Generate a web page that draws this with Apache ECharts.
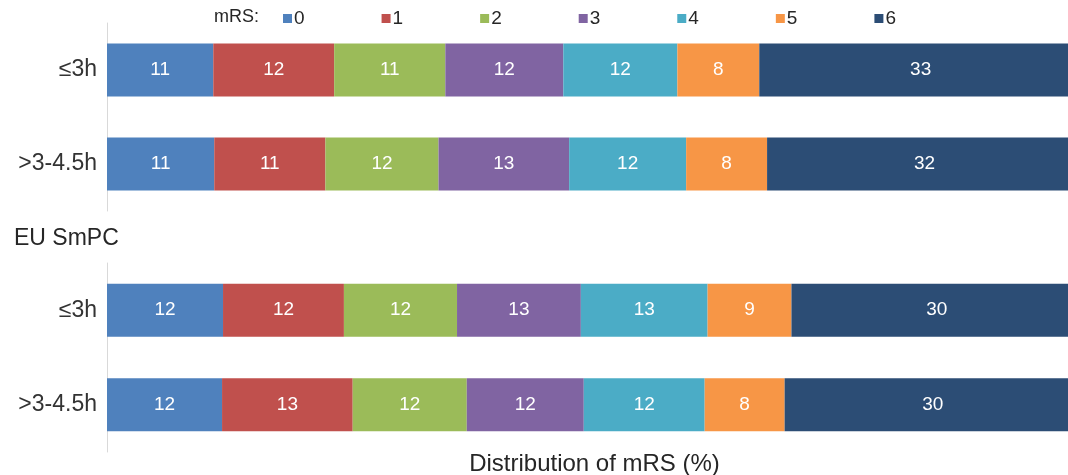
<!DOCTYPE html>
<html>
<head>
<meta charset="utf-8">
<script src="https://cdn.jsdelivr.net/npm/echarts@6/dist/echarts.min.js"></script>
<style>
html,body{margin:0;padding:0;background:#fff;}
#chart{width:1068px;height:475px;}
</style>
</head>
<body>
<div id="chart"></div>
<script>
// Categories (top to bottom within each group)
const categories = ['≤3h', '>3-4.5h'];
const groupTitle = 'EU SmPC';
const mrsLevels = ['0', '1', '2', '3', '4', '5', '6'];
const colors = ['#4F81BD', '#C0504D', '#9BBB59', '#8064A2', '#4BACC6', '#F79646', '#2C4D75'];

// Distribution of mRS (%), per level, [≤3h, >3-4.5h]
// Top group
const topMrs0 = [10.9, 11.0];
const topMrs1 = [12.4, 11.4];
const topMrs2 = [11.4, 11.6];
const topMrs3 = [12.1, 13.4];
const topMrs4 = [11.7, 12.0];
const topMrs5 = [8.4, 8.3];
const topMrs6 = [33.1, 32.3];
// Bottom group (EU SmPC)
const botMrs0 = [11.9, 11.8];
const botMrs1 = [12.4, 13.4];
const botMrs2 = [11.6, 11.7];
const botMrs3 = [12.7, 12.0];
const botMrs4 = [13.0, 12.4];
const botMrs5 = [8.6, 8.2];
const botMrs6 = [29.8, 30.4];

const topSeries = [topMrs0, topMrs1, topMrs2, topMrs3, topMrs4, topMrs5, topMrs6];
const botSeries = [botMrs0, botMrs1, botMrs2, botMrs3, botMrs4, botMrs5, botMrs6];

const FONT = 'Liberation Sans, Arial, sans-serif';

const chart = echarts.init(document.getElementById('chart'), null, {renderer: 'canvas'});

function makeSeries(arr, gridIdx) {
  return arr.map((vals, i) => ({
    name: mrsLevels[i],
    type: 'bar',
    stack: 'g' + gridIdx,
    xAxisIndex: gridIdx,
    yAxisIndex: gridIdx,
    barWidth: 53,
    data: vals,
    itemStyle: {color: colors[i]},
    label: {
      show: true,
      position: 'inside',
      color: '#fff',
      fontFamily: FONT,
      fontSize: 19,
      formatter: p => Math.round(p.value)
    },
    emphasis: {disabled: true}
  }));
}

const xAxisCommon = {
  type: 'value', min: 0, max: 100,
  axisLine: {show: false}, axisTick: {show: false},
  axisLabel: {show: false}, splitLine: {show: false}
};
const yAxisCommon = {
  type: 'category', data: categories, inverse: true,
  axisLine: {show: true, lineStyle: {color: '#d9d9d9', width: 1}},
  axisTick: {show: false},
  axisLabel: {color: '#333333', fontFamily: FONT, fontSize: 23, margin: 10}
};

chart.setOption({
  animation: false,
  textStyle: {fontFamily: FONT},
  color: colors,
  grid: [
    {left: 107, top: 23, width: 975, height: 188, containLabel: false, outerBoundsMode: 'none'},
    {left: 107, top: 263, width: 975, height: 189, containLabel: false, outerBoundsMode: 'none'}
  ],
  xAxis: [
    Object.assign({gridIndex: 0}, xAxisCommon),
    Object.assign({gridIndex: 1}, xAxisCommon, {
      name: 'Distribution of mRS (%)',
      nameLocation: 'middle',
      nameGap: 0,
      nameTextStyle: {color: '#262626', fontFamily: FONT, fontSize: 24, verticalAlign: 'top'}
    })
  ],
  yAxis: [
    Object.assign({gridIndex: 0}, yAxisCommon),
    Object.assign({gridIndex: 1}, yAxisCommon)
  ],
  legend: {
    data: mrsLevels,
    left: 278,
    top: 4,
    itemWidth: 9,
    itemHeight: 9,
    itemGap: 77,
    icon: 'rect',
    textStyle: {color: '#262626', fontFamily: FONT, fontSize: 19, padding: [0,0,0,-3]},
    selectedMode: false
  },
  graphic: [
    {type: 'text', left: 214, top: 8, style: {text: 'mRS:', fill: '#262626', font: '18px ' + FONT}},
    {type: 'text', left: 14, top: 227, style: {text: groupTitle, fill: '#262626', font: '23px ' + FONT}}
  ],
  series: makeSeries(topSeries, 0).concat(makeSeries(botSeries, 1))
});
</script>
</body>
</html>
